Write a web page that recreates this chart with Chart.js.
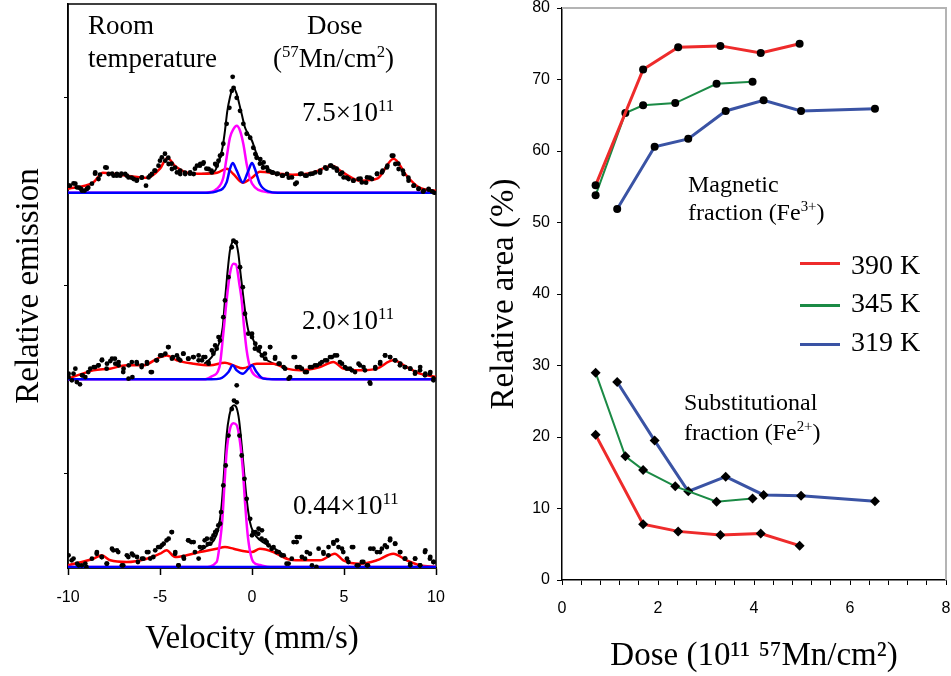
<!DOCTYPE html>
<html>
<head>
<meta charset="utf-8">
<script src="https://cdn.jsdelivr.net/npm/chart.js@4.4.1/dist/chart.umd.min.js"></script>
<style>
body { margin: 0; background: #fff; }
#wrap { position: relative; width: 951px; height: 676px; overflow: hidden; font-family: "Liberation Serif", "Times New Roman", serif; color: #000; }
canvas { position: absolute; top: 0; }
#left { left: 0; }
#right { left: 470px; }
.note { position: absolute; white-space: nowrap; line-height: 1; }
.note sup { font-size: 0.62em; vertical-align: 0.6em; line-height: 0; }
.leg { position: absolute; left: 800px; white-space: nowrap; font-size: 28px; line-height: 1; }
.leg span.ln { position: absolute; left: 0; width: 40px; height: 3px; }
.leg span.tx { position: absolute; left: 51px; top: 0; }
</style>
</head>
<body>
<div id="wrap">
  <canvas id="left" width="470" height="676"></canvas>
  <canvas id="right" width="481" height="676"></canvas>

  <div class="note" style="left:88px;top:12px;font-size:27px">Room</div>
  <div class="note" style="left:88px;top:45px;font-size:27px">temperature</div>
  <div class="note" style="left:307px;top:12px;font-size:27px">Dose</div>
  <div class="note" style="left:273px;top:45px;font-size:27px">(<sup>57</sup>Mn/cm<sup>2</sup>)</div>
  <div class="note" style="left:302px;top:99px;font-size:27px">7.5×10<sup>11</sup></div>
  <div class="note" style="left:302px;top:307px;font-size:27px">2.0×10<sup>11</sup></div>
  <div class="note" style="left:293px;top:492px;font-size:27px">0.44×10<sup>11</sup></div>

  <div class="note" style="left:688px;top:172px;font-size:24px">Magnetic</div>
  <div class="note" style="left:688px;top:200px;font-size:24px">fraction (Fe<sup>3+</sup>)</div>
  <div class="note" style="left:684px;top:390px;font-size:24px">Substitutional</div>
  <div class="note" style="left:684px;top:420px;font-size:24px">fraction (Fe<sup>2+</sup>)</div>
  <div id="legend"></div>
</div>
<script>
// ---------- left panel: emission spectra, [velocity mm/s, counts above baseline] ----------
var spectrumLabels = ['7.5e11', '2.0e11', '0.44e11'];
var spectrumBaselines = [376, 189, 1];
var emissionTicks = [95, 283, 471];
var velocityTicks = [-10, -5, 0, 5, 10];

var dots75 = [[-9.9,7],[-9.6,9],[-9.4,5],[-9.3,4],[-9.1,2],[-8.9,5],[-8.7,9],[-8.53,19],[-8.26,18],[-7.9,25],[-7.6,19],[-7.35,17],[-7.1,19],[-6.8,17],[-6.54,15],[-6.27,12],[-6.0,15],[-5.76,7],[-5.54,17],[-5.3,22],[-5.0,32],[-4.73,39],[-4.55,35],[-4.37,29],[-4.18,25],[-3.9,22],[-3.64,20],[-3.37,19],[-3.1,24],[-2.83,27],[-2.66,29],[-2.48,24],[-2.2,22],[-1.92,27],[-1.74,37],[-1.56,49],[-1.38,69],[-1.23,85],[-1.1,102],[-1.05,116],[-1.0,105],[-0.83,95],[-0.65,82],[-0.47,69],[-0.29,59],[-0.1,55],[0.07,45],[0.25,35],[0.43,29],[0.6,25],[0.87,22],[1.14,20],[1.4,19],[1.68,17],[2.0,15],[2.43,10],[2.7,19],[2.97,17],[3.3,19],[3.7,20],[4.05,24],[4.3,27],[4.6,24],[4.9,20],[5.16,15],[5.5,12],[5.9,14],[6.2,10],[6.4,15],[6.8,19],[7.1,22],[7.36,27],[7.68,37],[7.95,29],[8.2,22],[8.5,15],[8.8,7],[9.06,4],[9.3,1],[9.6,3],[9.9,0],
    [-9.97,7],[-9.7,9.3],[-9.52,5.3],[-9.24,2],[-8.97,3.7],[-8.52,20.3],[-8.34,13.7],[-7.97,25.3],[-7.79,18.7],[-7.52,17],[-7.34,18.7],[-7.16,17],[-6.89,18.7],[-6.71,15.3],[-6.43,13.7],[-6.25,12.7],[-5.98,15.3],[-5.62,15.3],[-5.44,18.7],[-5.26,22],[-5.08,27],[-4.9,35.3],[-4.71,32],[-4.53,28.7],[-4.35,23.7],[-4.08,20.3],[-3.9,18.7],[-3.63,18.7],[-3.36,20.3],[-3.17,18.7],[-2.99,27],[-2.81,28.7],[-2.63,30.3],[-2.36,23.7],[-2.18,20.3],[-2.0,28.7],[-1.82,32],[-1.63,38.7],
    [0.18,38.7],[0.45,33.7],[0.63,30.3],[0.81,25.3],[1.08,20.3],[1.35,18.7],[1.63,17],[1.9,18.7],[2.17,15.3],[2.35,8.7],[2.62,18.7],[2.89,17],[3.17,18.7],[3.44,20.3],[3.71,22],[3.98,25.3],[4.25,27],[4.43,25.3],[4.62,22],[4.8,18.7],[4.98,15.3],[5.25,13.7],[5.52,12],[5.79,13.7],[5.97,10.3],[6.25,15.3],[6.52,13.7],[6.79,18.7],[7.06,20.3],[7.33,25.3],[7.6,37],[7.79,28.7],[7.97,23.7],[8.24,18.7],[8.51,12],[8.78,7],[9.05,3.7],[9.33,2],[9.6,3.7],[9.78,1.3]];
var fit75 = [[-2.7,19],[-2.1,20.3],[-1.78,32],[-1.6,45.3],[-1.47,62],[-1.34,82],[-1.2,95.3],[-1.07,103.7],[-0.98,104.7],[-0.83,98.7],[-0.69,88.7],[-0.56,78.7],[-0.38,65.3],[-0.2,58.7],[0,52],[0.25,38.7],[0.53,28.7],[0.89,23.7],[1.34,19.3]];
var sextet75 = [[-10,4],[-8.64,10],[-8.1,20],[-6.8,17],[-5.7,15],[-5.0,24],[-4.6,35],[-4.2,27],[-3.5,20],[-2.7,19],[-1.9,20],[-1.36,24],[-1.03,19],[-0.5,10],[0,15],[0.43,21],[1.36,19],[2.2,18],[3.3,20],[4.35,27],[4.95,20],[5.9,12],[6.8,14],[7.7,34],[8.4,17],[9.1,5],[10,2]];
var singlet75 = [[-10,0],[-2.5,0],[-1.92,3.7],[-1.56,15],[-1.38,35],[-1.2,55],[-1.01,63.7],[-0.83,67],[-0.65,62],[-0.47,48.7],[-0.29,28.7],[-0.11,13.7],[0.16,5.3],[0.6,1.3],[1.2,0],[10,0]];
var doublet75 = [[-10,0],[-2.4,0],[-1.92,1.3],[-1.38,10.3],[-1.2,23.7],[-1.05,29.7],[-0.83,22],[-0.5,10.3],[-0.2,22],[0,29.7],[0.16,23.7],[0.43,8.7],[0.89,1.3],[1.4,0],[10,0]];

var dots20 = [[-9.97,2.3],[-9.7,5.7],[-9.6,10.7],[-9.35,-5],[-9.2,4],[-8.9,7.3],[-8.6,12.3],[-8.35,14],[-8.15,19.7],[-7.9,10.7],[-7.7,18.3],[-7.45,20.7],[-7.25,14],[-7.0,7.3],[-6.7,14],[-6.5,2.3],[-6.27,17.3],[-6.0,12.3],[-5.7,15.7],[-5.5,7.3],[-5.2,19],[-4.9,24],[-4.56,32.3],[-4.3,22.3],[-4.0,20.7],[-3.74,25.7],[-3.47,20.7],[-3.2,22.3],[-2.9,19],[-2.64,22.3],[-2.37,17.3],[-2.1,25.7],[-1.92,30.7],[-1.74,39],[-1.56,62.3],[-1.47,79],[-1.28,102.3],[-1.1,132.3],[-1.01,139],[-0.87,137.3],[-0.83,-6],[-0.65,112.3],[-0.5,92.3],[-0.38,65.7],[-0.2,45.7],[0,42.3],[0.16,30.7],[0.43,32.3],[0.7,25.7],[0.98,32.3],[1.25,20.7],[1.5,15.7],[1.8,10.7],[2.07,2.3],[2.34,22.3],[2.6,12.3],[2.88,7.3],[3.15,12.3],[3.42,14],[3.7,15.7],[3.97,19],[4.24,22.3],[4.5,24],[4.78,17.3],[5.05,12.3],[5.33,10.7],[5.6,7.3],[5.87,14],[6.14,9],[6.4,-3],[6.7,10.7],[6.96,15.7],[7.23,24],[7.5,22.3],[7.77,19],[8.04,14],[8.3,12.3],[8.6,10.7],[8.86,5.7],[9.13,9],[9.4,4],[9.67,5.7],[9.86,-1],
    [-9.97,5.7],[-9.79,-1],[-9.52,-2.7],[-9.24,4],[-9.06,2.3],[-8.79,10.7],[-8.52,12.3],[-8.34,14],[-8.16,19],[-7.88,15.7],[-7.61,20.7],[-7.43,15.7],[-7.25,17.3],[-6.98,10.7],[-6.71,0.7],[-6.53,17.3],[-6.25,15.7],[-5.98,14],[-5.71,17.3],[-5.44,7.3],[-5.17,19],[-4.99,24],[-4.71,25.7],[-4.53,32.3],[-4.35,20.7],[-4.08,24],[-3.9,19],[-3.72,25.7],[-3.45,20.7],[-3.17,22.3],[-2.9,24],[-2.72,19],[-2.54,22.3],[-2.36,15.7],[-2.18,29],[-2.0,34],[-1.82,42.3],
    [0.0,45.7],[0.18,35.7],[0.36,29],[0.54,24],[0.72,20.7],[0.99,32.3],[1.26,22.3],[1.45,15.7],[1.72,12.3],[1.99,0.7],[2.26,22.3],[2.44,12.3],[2.71,10.7],[2.98,7.3],[3.26,12.3],[3.53,14],[3.8,17.3],[4.07,19],[4.34,22.3],[4.62,24],[4.89,15.7],[5.16,10.7],[5.43,9],[5.79,15.7],[6.06,12.3],[6.43,-4.3],[6.7,12.3],[6.97,17.3],[7.24,24],[7.51,22.3],[7.79,19],[8.06,15.7],[8.33,12.3],[8.6,10.7],[8.87,7.3],[9.14,12.3],[9.42,5.7],[9.69,7.3],[9.87,1]];
var fit20 = [[-2.6,15.5],[-2.19,22.3],[-1.92,30.7],[-1.74,39],[-1.59,52.3],[-1.47,79],[-1.34,105.7],[-1.2,129],[-1.05,138.3],[-0.98,139.7],[-0.87,137.3],[-0.74,125.7],[-0.62,105.7],[-0.47,82.3],[-0.33,62.3],[-0.2,49],[0,42.3],[0.25,32.3],[0.62,22.3],[1.16,15.7],[1.6,14]];
var sextet20 = [[-10,0.7],[-8.62,9],[-7.72,10.7],[-6.81,14],[-5.91,14],[-5.0,22.3],[-4.64,24],[-4.09,19],[-3.19,15.7],[-2.28,14],[-1.47,16.7],[-1.01,14],[-0.5,11],[0.25,15.7],[1.16,15.7],[1.88,10.7],[2.61,9],[3.7,12.3],[4.42,17.3],[4.96,10.7],[5.87,9],[6.78,10.7],[7.68,19],[8.41,12.3],[9.13,5.7],[10,2.3]];
var singlet20 = [[-10,0],[-2.6,0],[-2.19,3],[-1.77,12.3],[-1.56,45.7],[-1.38,79],[-1.2,105.7],[-1.01,115.7],[-0.87,115],[-0.69,95.7],[-0.56,79],[-0.43,52.3],[-0.29,29],[-0.11,12.3],[0.16,4],[0.8,0.7],[1.3,0],[10,0]];
var doublet20 = [[-10,0],[-2.2,0],[-1.74,0.7],[-1.28,7.3],[-1.05,14],[-0.83,9],[-0.5,5.7],[-0.2,10.7],[0,14],[0.25,7.3],[0.62,0.7],[1.1,0],[10,0]];

var dots044 = [[-9.97,11.7],[-9.8,6.7],[-9.5,3.3],[-9.25,1.7],[-9,0],[-8.7,8.3],[-8.44,13.3],[-8.17,10],[-7.9,3.3],[-7.54,16.7],[-7.27,15],[-7.0,1.7],[-6.72,10],[-6.45,11.7],[-6.2,5],[-5.9,8.3],[-5.63,15],[-5.36,10],[-5.1,20],[-4.9,21.7],[-4.64,26.7],[-4.37,35],[-4.18,13.3],[-4.0,1.7],[-3.7,8.3],[-3.47,26.7],[-3.3,25],[-3.1,15],[-2.83,20],[-2.57,26.7],[-2.4,23],[-2.2,28.3],[-2.0,35],[-1.83,41.7],[-1.68,55],[-1.56,81.7],[-1.43,101.7],[-1.28,131.7],[-1.1,158.3],[-0.98,166.7],[-0.83,165],[-0.68,131.7],[-0.56,111.7],[-0.41,88.3],[-0.29,68.3],[-0.1,48.3],[0.07,35],[0.34,33.3],[0.52,28.3],[0.8,25],[1.07,18.3],[1.34,15],[1.6,11.7],[1.88,3.3],[2.16,8.3],[2.43,25],[2.6,30],[2.88,8.3],[3.15,13.3],[3.5,0],[3.88,15],[4.15,11.7],[4.42,25],[4.7,20],[4.96,15],[5.24,5],[5.5,20],[5.78,1.7],[6.05,5],[6.3,1.7],[6.6,18.3],[6.96,15],[7.23,21.7],[7.5,26.7],[7.77,23.3],[8.04,15],[8.3,8.3],[8.6,1.7],[8.86,8.3],[9.13,1.7],[9.4,15],[9.67,8.3],[9.86,5],
    [-9.7,8.4],[-9.42,1.7],[-9.06,3.4],[-8.43,15],[-8.16,10],[-7.88,3.4],[-7.61,18.4],[-7.34,16.7],[-7.07,1.7],[-6.8,11.7],[-6.53,13.4],[-6.25,10],[-5.98,8.4],[-5.71,15],[-5.53,8.4],[-5.26,16.7],[-4.99,20],[-4.8,23.4],[-4.53,28.4],[-4.35,35],[-4.17,15],[-3.99,1.7],[-3.72,10],[-3.45,26.7],[-3.17,25],[-2.9,8.4],[-2.63,20],[-2.45,28.4],[-2.27,23.4],[-2.09,31.7],[-1.91,36.7],[-1.73,43.4],
    [0.0,31.7],[0.18,35],[0.36,38.4],[0.54,36.7],[0.72,26.7],[0.9,21.7],[1.17,20],[1.45,15],[1.72,11.7],[1.99,3.4],[2.26,25],[2.44,30],[2.71,10],[2.98,15],[3.26,1.7],[3.62,18.4],[3.89,13.4],[4.16,20],[4.43,23.4],[4.62,26.7],[4.89,18.4],[5.16,8.4],[5.43,20],[5.7,1.7],[5.97,5],[6.25,1.7],[6.43,18.4],[6.79,15],[7.06,18.4],[7.33,20],[7.51,28.4],[7.79,23.4],[8.06,15],[8.33,8.4],[8.6,3.4],[8.87,8.4],[9.14,1.7],[9.42,16.7],[9.69,10],[9.87,5]];
var fit044 = [[-2.9,15],[-2.46,21],[-2.1,26],[-1.83,38],[-1.65,62],[-1.5,100],[-1.38,132],[-1.23,152],[-1.1,160],[-0.98,162],[-0.83,159],[-0.7,147],[-0.56,122],[-0.43,95],[-0.29,68],[-0.11,45],[0.07,35],[0.43,27],[0.98,21],[1.52,15],[1.9,8.3]];
var sextet044 = [[-10,1.7],[-8.62,8.3],[-8.17,11.7],[-7.7,6.7],[-6.8,5],[-5.72,8.3],[-5.0,13.3],[-4.64,16.7],[-4.18,10],[-3.55,11.7],[-2.83,15],[-1.92,18.3],[-1.47,20],[-1.0,18.3],[-0.5,16],[0,15],[0.43,18.3],[1.16,15],[1.88,8.3],[2.61,6.7],[3.7,6.7],[4.5,13.3],[4.96,6.7],[5.87,3.3],[6.78,6.7],[7.68,13.3],[8.41,6.7],[9.13,1.7],[10,0]];
var singlet044 = [[-10,0],[-2.6,0],[-1.92,5],[-1.74,25],[-1.61,48],[-1.5,81.7],[-1.38,115],[-1.2,138],[-1.01,144],[-0.83,142],[-0.65,125],[-0.5,98],[-0.38,65],[-0.25,35],[-0.1,15],[0.07,5],[0.43,2],[1.0,0],[10,0]];
var doublet044 = [[-10,0],[10,0]];

// ---------- right panel: relative areas vs dose ----------
var doseTicks = [0, 2, 4, 6, 8];
var areaTicks = [0, 10, 20, 30, 40, 50, 60, 70, 80];
var tempLabels = ['390 K', '345 K', '319 K'];
var tempColors = ['#ee2b2b', '#1b8a45', '#3a53a4'];
var tempWidths = [3, 2, 3];

var dose390 = [0.70, 1.69, 2.42, 3.30, 4.14, 4.95];
var magnetic390 = [55.2, 71.4, 74.5, 74.7, 73.7, 75.0];
var substitutional390 = [20.3, 7.8, 6.8, 6.3, 6.5, 4.8];

var dose345 = [0.70, 1.32, 1.69, 2.36, 3.22, 3.97];
var magnetic345 = [53.8, 65.3, 66.4, 66.7, 69.4, 69.7];
var substitutional345 = [29.0, 17.3, 15.4, 13.1, 10.95, 11.4];

var dose319 = [1.15, 1.93, 2.63, 3.41, 4.20, 4.98, 6.52];
var magnetic319 = [51.9, 60.6, 61.7, 65.6, 67.1, 65.6, 65.9];
var substitutional319 = [27.7, 19.5, 12.4, 14.45, 11.9, 11.8, 11.0];

Chart.defaults.font.family = '"Liberation Sans", Arial, sans-serif';
Chart.defaults.font.size = 16;
Chart.defaults.color = '#000';

// frame round the plot area
var framePlugin = {
    id: 'frame',
    beforeDatasetsDraw: function(chart, args, opts) {
        var ctx = chart.ctx, a = chart.chartArea;
        ctx.save();
        ctx.strokeStyle = opts.color;
        ctx.lineWidth = opts.width;
        ctx.beginPath();
        if (opts.full) {
            ctx.rect(a.left, a.top, a.right - a.left, a.bottom - a.top);
        } else {
            ctx.moveTo(a.left, a.top);
            ctx.lineTo(a.right, a.top);
            ctx.lineTo(a.right, a.bottom);
        }
        ctx.stroke();
        ctx.restore();
    }
};

// no extra room for overhanging tick labels
function noMargins(s) {
    s.paddingLeft = 0; s.paddingRight = 0; s.paddingTop = 0; s.paddingBottom = 0;
}

function shift(points, base) {
    return points.map(function(p) { return { x: p[0], y: p[1] + base }; });
}

function curve(points, base, color, width, order) {
    return {
        data: shift(points, base),
        showLine: true,
        borderColor: color,
        borderWidth: width,
        pointRadius: 0,
        cubicInterpolationMode: 'monotone',
        order: order
    };
}

var leftSets = [];
var allSpectra = [
    [dots75, fit75, sextet75, singlet75, doublet75],
    [dots20, fit20, sextet20, singlet20, doublet20],
    [dots044, fit044, sextet044, singlet044, doublet044]
];
allSpectra.forEach(function(s, i) {
    var base = spectrumBaselines[i];
    leftSets.push({
        label: spectrumLabels[i],
        data: shift(s[0], base),
        backgroundColor: '#000',
        borderWidth: 0,
        pointRadius: 2.4,
        order: 0
    });
    leftSets.push(curve(s[4], base, '#0000ff', 2.5, 1));
    leftSets.push(curve(s[3], base, '#ff00ff', 2.5, 2));
    leftSets.push(curve(s[2], base, '#ff0000', 2.5, 3));
    leftSets.push(curve(s[1], base, '#000000', 2, 4));
});

new Chart(document.getElementById('left'), {
    type: 'scatter',
    data: { datasets: leftSets },
    plugins: [framePlugin],
    options: {
        responsive: false,
        animation: false,
        layout: { padding: { top: 3, right: 34, left: 0, bottom: 0 } },
        plugins: {
            legend: { display: false },
            tooltip: { enabled: false },
            frame: { color: '#000', width: 1.5, full: true }
        },
        scales: {
            x: {
                type: 'linear', min: -10, max: 10,
                afterBuildTicks: function(s) { s.ticks = velocityTicks.map(function(v) { return { value: v }; }); },
                afterFit: function(s) { s.height = 108; noMargins(s); },
                ticks: { padding: 13, maxRotation: 0 },
                grid: { drawOnChartArea: false, tickLength: 7, color: '#000', tickWidth: 1.5 },
                border: { color: '#000', width: 1.5 },
                title: { display: true, text: 'Velocity (mm/s)', font: { family: '"Liberation Serif", serif', size: 33 }, padding: { top: 0, bottom: 17 } }
            },
            y: {
                type: 'linear', min: 0, max: 565,
                afterBuildTicks: function(s) { s.ticks = emissionTicks.map(function(v) { return { value: v }; }); },
                afterFit: function(s) { s.width = 68; noMargins(s); },
                ticks: { display: false },
                grid: { drawOnChartArea: false, tickLength: 4, color: '#000' },
                border: { color: '#000', width: 1.5 },
                title: { display: true, text: 'Relative emission', font: { family: '"Liberation Serif", serif', size: 33 }, padding: { top: 10, bottom: 0 } }
            }
        }
    }
});

// right panel
function xy(xs, ys) {
    return xs.map(function(x, i) { return { x: x, y: ys[i] }; });
}
var rightSets = [];
var doses = [dose390, dose345, dose319];
var magnetic = [magnetic390, magnetic345, magnetic319];
var substitutional = [substitutional390, substitutional345, substitutional319];
tempLabels.forEach(function(t, i) {
    rightSets.push({
        label: t + ' magnetic',
        data: xy(doses[i], magnetic[i]),
        showLine: true,
        borderColor: tempColors[i],
        borderWidth: tempWidths[i],
        pointStyle: 'circle',
        pointRadius: 4,
        pointBackgroundColor: '#000',
        pointBorderWidth: 0
    });
    rightSets.push({
        label: t + ' substitutional',
        data: xy(doses[i], substitutional[i]),
        showLine: true,
        borderColor: tempColors[i],
        borderWidth: tempWidths[i],
        pointStyle: 'rectRot',
        pointRadius: 5,
        pointBackgroundColor: '#000',
        pointBorderWidth: 0
    });
});

new Chart(document.getElementById('right'), {
    type: 'scatter',
    data: { datasets: rightSets },
    plugins: [framePlugin],
    options: {
        responsive: false,
        animation: false,
        layout: { padding: { top: 8, right: 4, left: 0, bottom: 0 } },
        plugins: {
            legend: { display: false },
            tooltip: { enabled: false },
            frame: { color: '#b4b4b4', width: 2, full: false }
        },
        scales: {
            x: {
                type: 'linear', min: 0, max: 8,
                ticks: {
                    stepSize: 0.4, autoSkip: false, maxRotation: 0, padding: 14,
                    callback: function(v) {
                        var r = Math.round(v);
                        return (Math.abs(v - r) < 1e-6 && doseTicks.indexOf(r) >= 0) ? String(r) : '';
                    }
                },
                afterFit: function(s) { s.height = 96; noMargins(s); },
                grid: { drawOnChartArea: false, tickLength: 5, color: '#000' },
                border: { color: '#000', width: 1.5 },
                title: { display: true, text: 'Dose (10¹¹ ⁵⁷Mn/cm²)', font: { family: '"Liberation Serif", serif', size: 33 }, padding: { top: 0, bottom: 0 } }
            },
            y: {
                type: 'linear', min: 0, max: 80,
                afterBuildTicks: function(s) { s.ticks = areaTicks.map(function(v) { return { value: v }; }); },
                afterFit: function(s) { s.width = 92; noMargins(s); },
                ticks: { padding: 7 },
                grid: { drawOnChartArea: false, tickLength: 5, color: '#000' },
                border: { color: '#000', width: 1.5 },
                title: { display: true, text: 'Relative area (%)', font: { family: '"Liberation Serif", serif', size: 33 }, padding: { top: 15, bottom: 0 } }
            }
        }
    }
});

// legend for the temperatures
var legend = document.getElementById('legend');
var legendTops = [251, 289, 328];
tempLabels.forEach(function(t, i) {
    var row = document.createElement('div');
    row.className = 'leg';
    row.style.top = legendTops[i] + 'px';
    row.innerHTML = '<span class="ln" style="top:' + (i === 0 ? 11 : 15) + 'px;background:' + tempColors[i] + '"></span><span class="tx">' + t + '</span>';
    legend.appendChild(row);
});
</script>
</body>
</html>
